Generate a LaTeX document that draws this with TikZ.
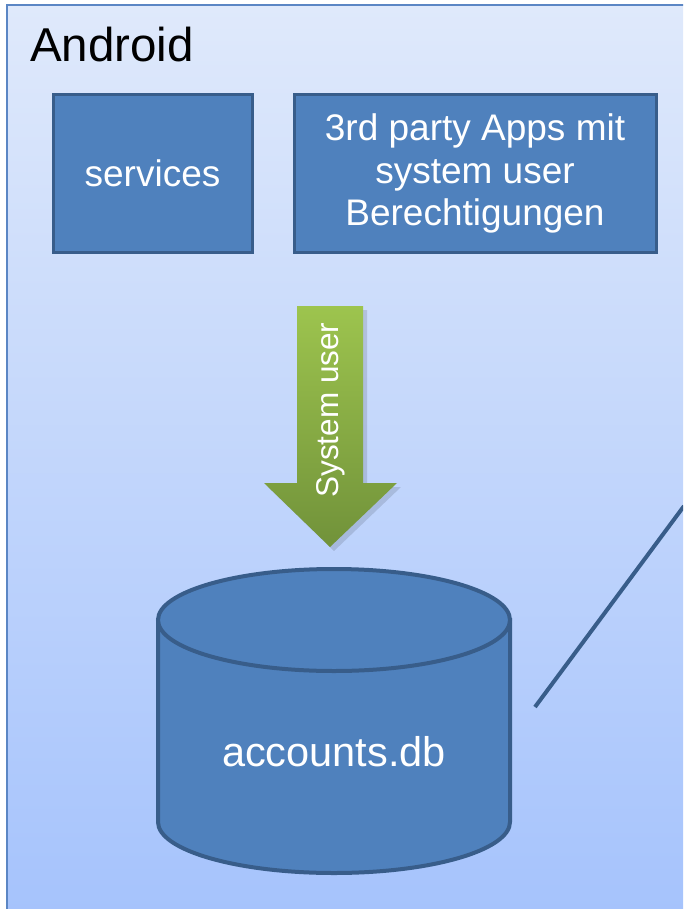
\documentclass[tikz,border=0pt]{standalone}
\usepackage{fontspec}
\setmainfont{Liberation Sans}
\definecolor{bgtop}{HTML}{DFE9FB}
\definecolor{bgbot}{HTML}{A4C2FC}
\definecolor{frame}{HTML}{5B86C4}
\definecolor{boxfill}{HTML}{4F81BD}
\definecolor{boxline}{HTML}{385D8A}
\definecolor{greentop}{HTML}{9DC44E}
\definecolor{greenbot}{HTML}{71923A}
\begin{document}
\begin{tikzpicture}[x=1pt,y=-1pt,
  bluebox/.style={draw=boxline, line width=3pt, fill=boxfill, text=white,
    font=\fontsize{37}{42.5}\selectfont, align=center, inner sep=0pt},
  dbline/.style={draw=boxline, line width=4pt},
]
\useasboundingbox (0,0) rectangle (683,909);
\clip (0,0) rectangle (683,909);
\fill[white] (0,0) rectangle (683,909);
% outer Android frame
\shade[top color=bgtop, bottom color=bgbot] (7,5) rectangle (720,940);
\draw[frame, line width=1.5pt] (7,960) -- (7,5) -- (720,5);
\node[anchor=base west, font=\fontsize{47.5}{56}\selectfont, inner sep=0pt] (android) at (30,62) {Android};
% boxes
\node[bluebox, minimum width=199pt, minimum height=157pt] (services) at (152.5,173.5) {services};
\node[bluebox, minimum width=362pt, minimum height=157pt] (apps) at (475,173.5) {3rd party Apps mit\\system user\\Berechtigungen};
% arrow
\fill[black, opacity=0.12] (301,310) -- (367,310) -- (367,487) -- (401,487) -- (334,551) -- (268,487) -- (301,487) -- cycle;
\shade[top color=greentop, bottom color=greenbot]
  (297,306) -- (363,306) -- (363,483) -- (397,483) -- (330,547) -- (264,483) -- (297,483) -- cycle;
\node[rotate=90, text=white, font=\fontsize{31.5}{36}\selectfont, inner sep=0pt] (sysuser) at (331,410) {System user};
% cylinder
\path[dbline, fill=boxfill] (158,620) -- (158,822) arc[start angle=180, end angle=0, x radius=176, y radius=51] -- (510,620) -- cycle;
\path[dbline, fill=boxfill] (334,620) ellipse [x radius=176, y radius=51];
\node[text=white, font=\fontsize{41.5}{48}\selectfont, inner sep=0pt] (db) at (334,752) {accounts.db};
% line
\coordinate (l1) at (535,707);
\coordinate (l2) at (684,506);
\draw[boxline, line width=4pt] (l1) -- (l2);
\end{tikzpicture}
\end{document}
